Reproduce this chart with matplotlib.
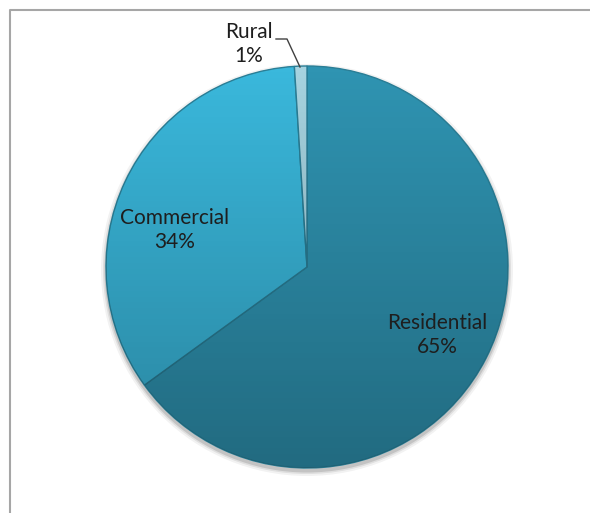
import numpy as np
import matplotlib.pyplot as plt
from matplotlib.patches import Circle

labels = ['Residential', 'Commercial', 'Rural']
shares = [65, 34, 1]
colors = ['#2F94B2', '#3AB8DC', '#A6D3E0']

H = 513
fig = plt.figure(figsize=(5.9, 5.13), dpi=100)
ax = fig.add_axes([0, 0, 1, 1])

def Y(y):
    # pixel row from the top -> data y
    return H - y

# chart frame (only top/left visible in the crop)
ax.plot([10, 10, 600], [Y(520), Y(10), Y(10)], color='#A6A6A6', lw=1.5, zorder=0)

cx, cy, r = 307, Y(267), 201

# soft shadow under the pie
for k, a in [(5, 0.05), (3, 0.08), (1.5, 0.12)]:
    ax.add_patch(Circle((cx, cy - 3), r + k, color='k', alpha=a, lw=0, zorder=1))

wedges, _ = ax.pie(shares, colors=colors, startangle=90, counterclock=False,
                   center=(cx, cy), radius=r, frame=True,
                   wedgeprops=dict(edgecolor='#2A7E96', linewidth=1.0, zorder=2))
ax.set_xlim(0, 590)
ax.set_ylim(0, H)
ax.set_aspect('equal')
ax.axis('off')

# vertical shading gradient over the pie (darker toward the bottom)
grad = np.zeros((256, 1, 4))
grad[:, 0, 3] = np.linspace(0.0, 0.28, 256)
clip = Circle((cx, cy), r, transform=ax.transData)
im = ax.imshow(grad, extent=(cx - r, cx + r, cy - r, cy + r), origin='upper',
               aspect='auto', zorder=3, interpolation='bilinear')
im.set_clip_path(clip)
ax.set_xlim(0, 590)
ax.set_ylim(0, H)

txt = dict(fontsize=15, family=['Lato', 'DejaVu Sans'], color='#1E1E1E',
           ha='center', va='center', linespacing=1.25, zorder=5)
ax.text(437, Y(335), 'Residential\n65%', **txt)
ax.text(175, Y(230), 'Commercial\n34%', **txt)
ax.text(249, Y(44), 'Rural\n1%', **txt)
ax.plot([276, 287, 300], [Y(39), Y(39), Y(67)], color='#404040', lw=1.0, zorder=5)

fig.savefig('out.png', dpi=100, facecolor='white')
